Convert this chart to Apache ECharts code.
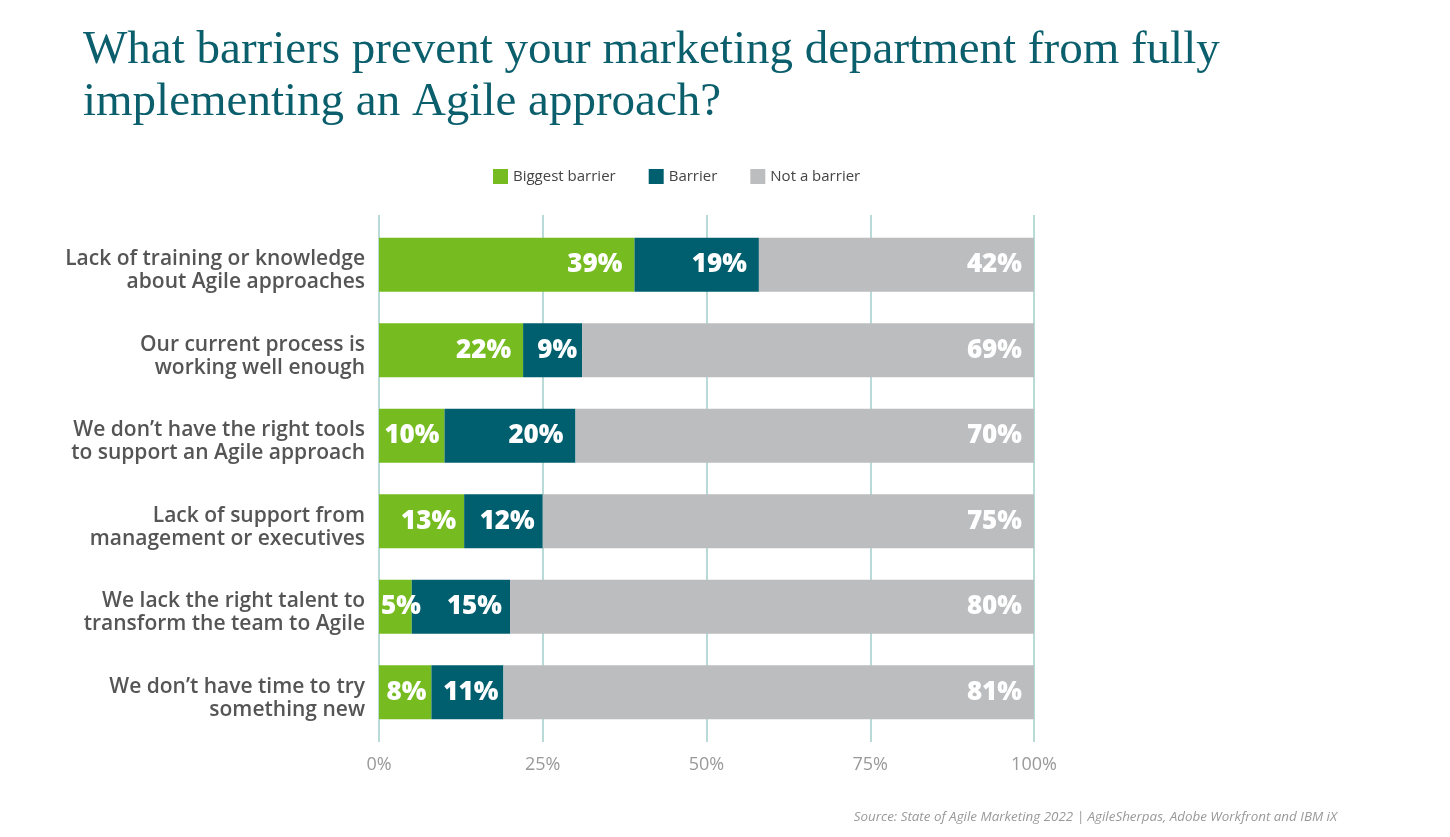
<!DOCTYPE html>
<html><head><meta charset="utf-8">
<script src="https://cdn.jsdelivr.net/npm/echarts@6/dist/echarts.min.js"></script>
<style>html,body{margin:0;padding:0;background:#fff;}#c{width:1450px;height:837px;}</style>
</head><body><div id="c"></div>
<script>
const categories = [
  "Lack of training or knowledge\nabout Agile approaches",
  "Our current process is\nworking well enough",
  "We don’t have the right tools\nto support an Agile approach",
  "Lack of support from\nmanagement or executives",
  "We lack the right talent to\ntransform the team to Agile",
  "We don’t have time to try\nsomething new"
];
const seriesNames = ["Biggest barrier", "Barrier", "Not a barrier"];
const biggest = [39, 22, 10, 13, 5, 8];
const barrier = [19, 9, 20, 12, 15, 11];
const notBarrier = [42, 69, 70, 75, 80, 81];
const xTicks = [0, 25, 50, 75, 100];
const titleText = "What barriers prevent your marketing department from fully\nimplementing an Agile approach?";
const sourceText = "Source: State of Agile Marketing 2022 | AgileSherpas, Adobe Workfront and IBM iX";

const colors = ["#76bc21", "#005f6e", "#bcbdbf"];
const chart = echarts.init(document.getElementById('c'), null, {renderer: 'canvas'});
const labelBase = {show: true, position: 'insideRight', distance: 12, color: '#fff',
  fontFamily: 'Open Sans', fontWeight: 800, fontSize: 26, formatter: p => p.value + '%'};
function itemLabel(v) {
  if (v < 6) return {position: 'insideLeft', distance: 2};
  if (v <= 11) return {distance: 5};
  if (v <= 15) return {distance: 8};
  return {distance: 12};
}
function mk(vals, i) {
  return {
    name: seriesNames[i], type: 'bar', stack: 'all', barWidth: 54,
    itemStyle: {color: colors[i]},
    label: labelBase,
    data: vals.map(v => ({value: v, label: itemLabel(v)}))
  };
}
chart.setOption({
  animation: false,
  title: [{text: titleText, left: 78, top: 20,
    textStyle: {fontFamily: 'Liberation Serif', fontWeight: 'normal', fontSize: 47, color: '#0b5f6c', lineHeight: 52}},
    {text: sourceText, right: 108, top: 806,
    textStyle: {fontFamily: 'Open Sans', fontStyle: 'italic', fontWeight: 'normal', fontSize: 13.4, color: '#999'}}],
  legend: {top: 164, left: 488, itemWidth: 15, itemHeight: 15, itemGap: 33, icon: 'rect',
    textStyle: {fontFamily: 'Open Sans', fontSize: 15, color: '#444'}},
  grid: [
    {left: 379, right: 416, top: 222, height: 513},
    {left: 379, right: 416, top: 215, height: 527}
  ],
  xAxis: [
    {type: 'value', min: 0, max: 100, interval: 25, gridIndex: 0,
      axisLine: {show: false}, axisTick: {show: false}, splitLine: {show: false}, axisLabel: {show: false}},
    {type: 'value', min: 0, max: 100, interval: 25, gridIndex: 1,
      axisLine: {show: false}, axisTick: {show: false},
      splitLine: {show: true, lineStyle: {color: '#b9dbd8', width: 2}},
      axisLabel: {formatter: v => xTicks.includes(v) ? v + '%' : '', margin: 14,
        fontFamily: 'Open Sans', fontSize: 18, color: '#999'}}
  ],
  yAxis: [
    {type: 'category', inverse: true, data: categories, gridIndex: 0,
      axisLine: {show: false}, axisTick: {show: false},
      axisLabel: {margin: 14, align: 'right',
        formatter: v => '{s| }\n' + v.split('\n').map(l => '{a|' + l + '}').join('\n'),
        rich: {
          s: {lineHeight: 12, fontSize: 4},
          a: {fontFamily: 'Open Sans', fontWeight: 600, fontSize: 21, color: '#555', lineHeight: 23, align: 'right'}
        }}},
    {type: 'value', gridIndex: 1, min: 0, max: 1, show: false}
  ],
  series: [mk(biggest, 0), mk(barrier, 1), mk(notBarrier, 2)]
});
</script></body></html>
